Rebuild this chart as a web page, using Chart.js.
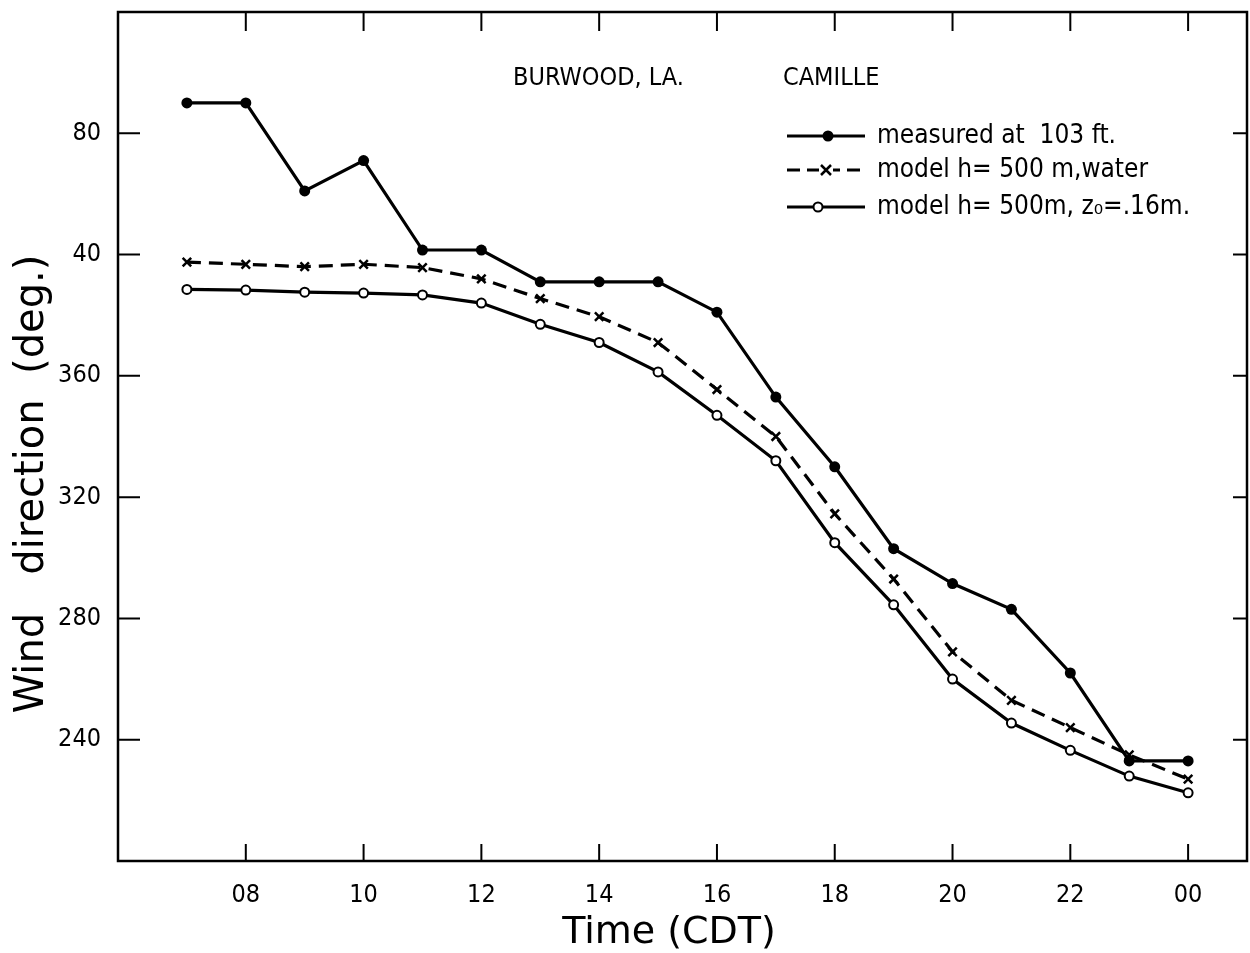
<!DOCTYPE html>
<html>
<head>
<meta charset="utf-8">
<script src="https://cdn.jsdelivr.net/npm/chart.js@4/dist/chart.umd.min.js"></script>
<style>
  html, body { margin: 0; padding: 0; background: #fff; }
  canvas { display: block; }
</style>
</head>
<body>
<canvas id="c" width="1250" height="953"></canvas>
<script>
// ---- data (hours CDT; 24 = 00 next day). Directions above 360 are wrapped (e.g. 440 = 80 deg) ----
const hours = [7, 8, 9, 10, 11, 12, 13, 14, 15, 16, 17, 18, 19, 20, 21, 22, 23, 24];
const measured103ft = [450, 450, 421, 431, 401.5, 401.5, 391, 391, 391, 381, 353, 330, 303, 291.5, 283, 262, 233, 233];
const modelWater    = [397.5, 396.8, 396, 396.8, 395.7, 392, 385.5, 379.5, 371, 355.5, 340, 314.5, 293, 269, 253, 244, 235, 227];
const modelZ0       = [388.5, 388.3, 387.6, 387.3, 386.7, 384, 377, 371, 361.3, 347, 332, 305, 284.5, 260, 245.5, 236.5, 228, 222.5];

const xTickValues = [8, 10, 12, 14, 16, 18, 20, 22, 24];
const xTickLabels = ['08', '10', '12', '14', '16', '18', '20', '22', '00'];
const yTickValues = [240, 280, 320, 360, 400, 440];
const yTickLabels = ['240', '280', '320', '360', '40', '80'];

const seriesNames = ['measured at  103 ft.', 'model h= 500 m,water', 'model h= 500m, z\u2080=.16m.'];
const titleLeft = 'BURWOOD, LA.';
const titleRight = 'CAMILLE';
const xTitle = 'Time (CDT)';
const yTitle = 'Wind   direction  (deg.)';

const pts = arr => hours.map((h, i) => ({ x: h, y: arr[i] }));
const COND = '"DejaVu Sans Condensed", "Liberation Sans Narrow", "DejaVu Sans", sans-serif';
const WIDE = '"DejaVu Sans", sans-serif';

const decor = {
  id: 'decor',
  beforeDatasetsDraw(chart) {
    const { ctx, chartArea: { left, right, top, bottom }, scales: { x, y } } = chart;
    ctx.save();
    ctx.strokeStyle = '#000';
    ctx.lineWidth = 2.5;
    ctx.strokeRect(left, top, right - left, bottom - top);
    ctx.lineWidth = 2;
    ctx.beginPath();
    xTickValues.forEach(v => {
      const px = x.getPixelForValue(v);
      ctx.moveTo(px, bottom); ctx.lineTo(px, bottom - 17);
      ctx.moveTo(px, top); ctx.lineTo(px, top + 19);
    });
    yTickValues.forEach(v => {
      const py = y.getPixelForValue(v);
      ctx.moveTo(left, py); ctx.lineTo(left + 22, py);
      ctx.moveTo(right, py); ctx.lineTo(right - 14, py);
    });
    ctx.stroke();
    ctx.restore();
  },
  afterDraw(chart) {
    const { ctx } = chart;
    ctx.save();
    ctx.fillStyle = '#000';
    ctx.strokeStyle = '#000';
    // axis titles
    ctx.font = '38px ' + WIDE;
    ctx.textAlign = 'center';
    ctx.textBaseline = 'alphabetic';
    ctx.fillText(xTitle, 669, 943);
    ctx.save();
    ctx.translate(43, 484);
    ctx.rotate(-Math.PI / 2);
    ctx.font = '40px ' + WIDE;
    ctx.fillText(yTitle, 0, 0);
    ctx.restore();
    // header labels
    ctx.font = '25px ' + COND;
    ctx.textAlign = 'left';
    ctx.textBaseline = 'middle';
    ctx.fillText(titleLeft, 513, 78);
    ctx.fillText(titleRight, 783, 78);
    // legend
    const rows = [136, 170, 207];
    const x0 = 787, x1 = 865, tx = 877;
    ctx.font = '26px ' + COND;
    rows.forEach((ry, i) => {
      ctx.lineWidth = 3.2;
      ctx.setLineDash(i === 1 ? [13, 7] : []);
      ctx.beginPath(); ctx.moveTo(x0, ry); ctx.lineTo(x1, ry); ctx.stroke();
      ctx.setLineDash([]);
      if (i === 0) {
        ctx.beginPath(); ctx.arc(828, ry, 5.5, 0, Math.PI * 2); ctx.fill();
      } else if (i === 1) {
        ctx.fillStyle = '#fff'; ctx.fillRect(819, ry - 6, 14, 12); ctx.fillStyle = '#000';
        ctx.lineWidth = 2.5;
        ctx.beginPath();
        ctx.moveTo(821, ry - 5); ctx.lineTo(831, ry + 5);
        ctx.moveTo(831, ry - 5); ctx.lineTo(821, ry + 5);
        ctx.stroke();
      } else {
        ctx.lineWidth = 2;
        ctx.fillStyle = '#fff';
        ctx.beginPath(); ctx.arc(818, ry, 4.5, 0, Math.PI * 2); ctx.fill(); ctx.stroke();
        ctx.fillStyle = '#000';
      }
      ctx.fillText(seriesNames[i], tx, ry);
    });
    ctx.restore();
  }
};

new Chart(document.getElementById('c'), {
  type: 'line',
  data: {
    datasets: [
      { label: seriesNames[0], data: pts(measured103ft), borderColor: '#000', backgroundColor: '#000',
        borderWidth: 3.2, pointStyle: 'circle', pointRadius: 5.5, pointBackgroundColor: '#000', pointBorderWidth: 0, tension: 0 },
      { label: seriesNames[1], data: pts(modelWater), borderColor: '#000', backgroundColor: '#000',
        borderWidth: 3.2, borderDash: [14, 8], pointStyle: 'crossRot', pointRadius: 6, pointBorderWidth: 2.5, tension: 0 },
      { label: seriesNames[2], data: pts(modelZ0), borderColor: '#000', backgroundColor: '#000',
        borderWidth: 3.2, pointStyle: 'circle', pointRadius: 4.5, pointBackgroundColor: '#fff', pointBorderColor: '#000', pointBorderWidth: 2, tension: 0 }
    ]
  },
  options: {
    responsive: false,
    animation: false,
    layout: { autoPadding: false, padding: { top: 12, right: 3, left: 0, bottom: 0 } },
    plugins: { legend: { display: false }, tooltip: { enabled: false } },
    scales: {
      x: {
        type: 'linear', min: 5.83, max: 25,
        afterBuildTicks: s => { s.ticks = xTickValues.map(v => ({ value: v })); },
        afterFit: s => { s.height = 92; s.paddingLeft = 0; s.paddingRight = 0; },
        grid: { display: false }, border: { display: false },
        ticks: { color: '#000', font: { family: COND, size: 25 }, padding: 11,
          callback: v => { const i = xTickValues.indexOf(v); return i >= 0 ? xTickLabels[i] : ''; } }
      },
      y: {
        type: 'linear', min: 200, max: 480,
        afterBuildTicks: s => { s.ticks = yTickValues.map(v => ({ value: v })); },
        afterFit: s => { s.width = 118; s.paddingTop = 0; s.paddingBottom = 0; },
        grid: { display: false }, border: { display: false },
        ticks: { color: '#000', font: { family: COND, size: 25 }, padding: 9,
          callback: v => { const i = yTickValues.indexOf(v); return i >= 0 ? yTickLabels[i] : ''; } }
      }
    }
  },
  plugins: [decor]
});
</script>
</body>
</html>
